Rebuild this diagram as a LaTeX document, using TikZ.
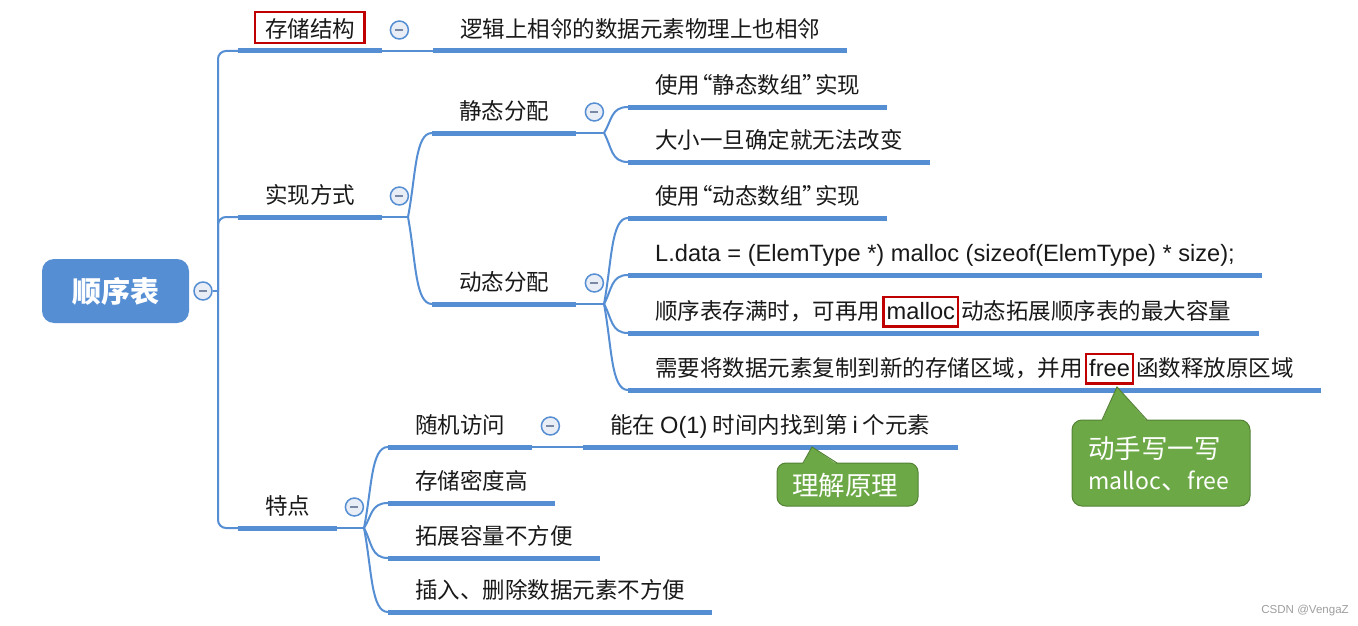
\documentclass[tikz,border=0pt]{standalone}
\usepackage{fontspec}
\setmainfont{Noto Sans CJK SC}
\newfontfamily\latn{Liberation Sans}[Scale=1.05]
\usetikzlibrary{calc}
\definecolor{mmblue}{RGB}{86,142,212}
\definecolor{mmred}{RGB}{192,0,0}
\definecolor{mmgreen}{RGB}{108,169,70}
\definecolor{mmgreend}{RGB}{84,130,53}
\definecolor{circfill}{RGB}{233,237,245}
\definecolor{minusc}{RGB}{120,136,165}
\definecolor{txt}{RGB}{25,25,25}
\newcommand\redbox[1]{\hspace{2pt}{\setlength\fboxrule{2.5pt}\setlength\fboxsep{2pt}\fcolorbox{mmred}{white}{\rule[-3.5pt]{0pt}{23pt}#1}}\hspace{2pt}}
\newcommand\myLq{\hspace{-10pt}“}
\newcommand\myRq{”\hspace{-10pt}}
\newcommand\brc[2]{\draw[conn] (#1) .. controls ($(#1)!0.5!(#1 |- #2.south west)+(8,0)$) and ($(#1 |- #2.south west)+(7,0)$) .. (#2.south west);}
\begin{document}
\begin{tikzpicture}[x=1pt,y=-1pt,
  topic/.style={anchor=south west, inner xsep=27pt, inner ysep=0pt, text height=20pt, text depth=13pt, font=\fontsize{22.5}{27}\selectfont, text=txt},
  uline/.style={line width=5pt, mmblue},
  conn/.style={line width=2pt, mmblue},
  fold/.style={circle, draw=mmblue, line width=1.5pt, fill=circfill, minimum size=18pt, inner sep=0pt,
    path picture={\draw[line width=1.6pt, minusc] ([xshift=-4pt]path picture bounding box.center) -- ([xshift=4pt]path picture bounding box.center);}},
  rootbox/.style={rounded corners=12pt, fill=mmblue, minimum width=147pt, minimum height=64pt, text=white, font=\bfseries\fontsize{29}{34}\selectfont},
  redb/.style={draw=mmred, line width=2.5pt},
  callout/.style={fill=mmgreen, draw=mmgreend, line width=1pt},
  calltext/.style={text=white, font=\fontsize{26.5}{31}\selectfont, inner sep=0pt}
]
\fill[white] (0,0) rectangle (1358,626);
\useasboundingbox (0,0) rectangle (1358,626);

% root
\node[rootbox] (root) at (115.5,291) {顺序表};
\node[fold] (rootfold) at (203,291) {};
\coordinate (trunk) at (218,291);

% level 1
\node[topic] (t1) at (238,51) {存储结构};
\node[topic] (t2) at (238,217) {实现方式};
\node[topic] (t3) at (238,528) {特点};

% level 2
\node[topic] (a1) at (433,51) {逻辑上相邻的数据元素物理上也相邻};
\node[topic] (b1) at (432,133) {静态分配};
\node[topic] (b2) at (432,304) {动态分配};
\node[topic] (e1) at (388,447) {随机访问};
\node[topic] (e2) at (388,503) {存储密度高};
\node[topic] (e3) at (388,558) {拓展容量不方便};
\node[topic] (e4) at (388,612) {插入、删除数据元素不方便};

% level 3
\node[topic] (c1) at (628,107) {使用\myLq 静态数组\myRq 实现};
\node[topic] (c2) at (628,162) {大小一旦确定就无法改变};
\node[topic] (d1) at (628,218) {使用\myLq 动态数组\myRq 实现};
\node[topic] (d2) at (628,275) {\latn L.data = (ElemType *) malloc (sizeof(ElemType) * size);};
\node[topic] (d3) at (628,333) {顺序表存满时，可再用\redbox{\latn malloc}动态拓展顺序表的最大容量};
\node[topic] (d4) at (628,390) {需要将数据元素复制到新的存储区域，并用\redbox{\latn free}函数释放原区域};
\node[topic] (f1) at (583,447) {能在 {\latn O(1)} 时间内找到第 {\latn i} 个元素};

% underlines
\foreach \n in {t1,t2,t3,a1,b1,b2,c1,c2,d1,d2,d3,d4,e1,e2,e3,e4,f1}
  \draw[uline] (\n.south west) -- (\n.south east);

% trunk
\draw[conn] (rootfold.east) -- (trunk);
\foreach \n in {t1,t2,t3}
  \draw[conn, rounded corners=8pt] (trunk) |- (\n.south west);

% straight links
\draw[conn] (t1.south east) -- (a1.south west);
\draw[conn] (e1.south east) -- (f1.south west);

% forks
\coordinate (ft2) at ($(b1.south west |- t2.south east)+(-24,0)$);
\draw[conn] (t2.south east) -- (ft2);
\brc{ft2}{b1}
\brc{ft2}{b2}

\coordinate (fb1) at ($(c1.south west |- b1.south east)+(-24,0)$);
\draw[conn] (b1.south east) -- (fb1);
\brc{fb1}{c1}
\brc{fb1}{c2}

\coordinate (fb2) at ($(d1.south west |- b2.south east)+(-24,0)$);
\draw[conn] (b2.south east) -- (fb2);
\brc{fb2}{d1}
\brc{fb2}{d2}
\brc{fb2}{d3}
\brc{fb2}{d4}

\coordinate (ft3) at ($(e1.south west |- t3.south east)+(-24,0)$);
\draw[conn] (t3.south east) -- (ft3);
\brc{ft3}{e1}
\brc{ft3}{e2}
\brc{ft3}{e3}
\brc{ft3}{e4}

% fold markers
\node[fold] (fold1) at ($(t1.south east)+(17,-21)$) {};
\node[fold] (fold2) at ($(t2.south east)+(17,-21)$) {};
\node[fold] (fold3) at ($(t3.south east)+(17,-21)$) {};
\node[fold] (fold4) at ($(b1.south east)+(18,-21)$) {};
\node[fold] (fold5) at ($(b2.south east)+(18,-21)$) {};
\node[fold] (fold6) at ($(e1.south east)+(18,-21)$) {};

% red frame on 存储结构
\draw[redb] ($(t1.south west)+(17,-8)$) rectangle ($(t1.south east)+(-18,-39)$);

% callout 1
\draw[callout, rounded corners=9pt] (777,463) rectangle (918,506);
\fill[mmgreen] (803,464.2) -- (812,447) -- (837,464.2) -- cycle;
\draw[mmgreend, line width=1pt, line join=miter] (803,463) -- (812,447) -- (837,463);
\node[calltext] (k1) at (845,485) {理解原理};

% callout 2
\draw[callout, rounded corners=10pt] (1072,420) rectangle (1250,506);
\fill[mmgreen] (1102,421.2) -- (1117,387) -- (1147,421.2) -- cycle;
\draw[mmgreend, line width=1pt, line join=miter] (1102,420) -- (1117,387) -- (1147,420);
\node[calltext, align=left, anchor=north west] (k2) at (1088,436) {动手写一写\\{\fontsize{23}{31}\selectfont malloc}、{\fontsize{23}{31}\selectfont free}};

% watermark
\node[anchor=east, text=gray!75, font=\latn\fontsize{11}{13}\selectfont, inner sep=0pt] (wm) at (1349,611) {CSDN @VengaZ};
\end{tikzpicture}
\end{document}
